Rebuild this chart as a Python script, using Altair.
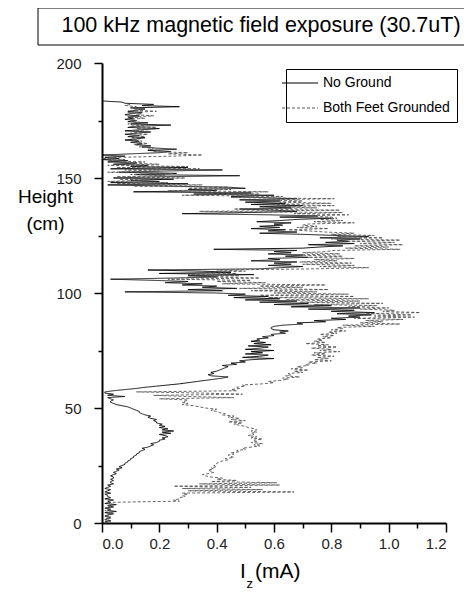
import altair as alt
import pandas as pd

# ---------------- data ----------------
SERIES = ["No Ground", "Both Feet Grounded"]
STEP_CM = 0.5  # sampling step along the body height

# I_z (mA), every 0.5 cm of height starting at 0 cm
no_ground = [
    # 0 - 9.5
    0.02, 0.01, 0.03, 0.01, 0.02, 0.03, 0.01, 0.02, 0.04, 0.01, 0.05, 0.02, 0.03, 0.01, 0.04, 0.02, 0.05, 0.01, 0.03, 0.02,
    # 10 - 19.5
    0.04, 0.01, 0.03, 0.02, 0.02, 0.01, 0.03, 0.01, 0.02, 0.03, 0.01, 0.02, 0.03, 0.02, 0.04, 0.03, 0.03, 0.04, 0.03, 0.04,
    # 20 - 29.5
    0.04, 0.03, 0.04, 0.05, 0.04, 0.05, 0.06, 0.05, 0.07, 0.06, 0.07, 0.08, 0.08, 0.09, 0.09, 0.10, 0.10, 0.11, 0.11, 0.12,
    # 30 - 39.5
    0.12, 0.13, 0.13, 0.14, 0.15, 0.14, 0.16, 0.17, 0.18, 0.17, 0.19, 0.20, 0.20, 0.22, 0.21, 0.23, 0.22, 0.20, 0.24, 0.21,
    # 40 - 49.5
    0.25, 0.21, 0.23, 0.20, 0.22, 0.20, 0.21, 0.19, 0.19, 0.18, 0.19, 0.17, 0.16, 0.17, 0.15, 0.14, 0.13, 0.13, 0.12, 0.11,
    # 50 - 59.5
    0.10, 0.09, 0.07, 0.05, 0.04, 0.03, 0.03, 0.04, 0.03, 0.02, 0.08, 0.02, 0.04, 0.01, 0.01, 0.04, 0.08, 0.12, 0.15, 0.19,
    # 60 - 69.5
    0.23, 0.27, 0.30, 0.33, 0.36, 0.39, 0.42, 0.44, 0.38, 0.37, 0.39, 0.38, 0.40, 0.41, 0.42, 0.43, 0.44, 0.42, 0.47, 0.45,
    # 70 - 79.5
    0.50, 0.48, 0.52, 0.60, 0.49, 0.55, 0.58, 0.50, 0.56, 0.52, 0.60, 0.50, 0.55, 0.58, 0.51, 0.59, 0.53, 0.57, 0.52, 0.55,
    # 80 - 89.5
    0.54, 0.58, 0.56, 0.60, 0.59, 0.64, 0.62, 0.65, 0.60, 0.59, 0.59, 0.60, 0.63, 0.70, 0.68, 0.78, 0.74, 0.85, 0.80, 0.90,
    # 90 - 99.5
    0.86, 0.94, 0.82, 0.95, 0.80, 0.88, 0.72, 0.90, 0.66, 0.80, 0.60, 0.72, 0.55, 0.68, 0.50, 0.62, 0.46, 0.58, 0.44, 0.50,
    # 100 - 109.5
    0.40, 0.08, 0.42, 0.30, 0.47, 0.35, 0.40, 0.28, 0.35, 0.22, 0.30, 0.18, 0.03, 0.25, 0.40, 0.30, 0.53, 0.20, 0.45, 0.35,
    # 110 - 119.5
    0.16, 0.55, 0.62, 0.70, 0.58, 0.66, 0.60, 0.68, 0.52, 0.62, 0.58, 0.72, 0.64, 0.70, 0.58, 0.66, 0.60, 0.68, 0.39, 0.70,
    # 120 - 129.5
    0.76, 0.84, 0.72, 0.88, 0.78, 0.86, 0.82, 0.90, 0.76, 0.93, 0.82, 0.70, 0.55, 0.68, 0.58, 0.64, 0.52, 0.62, 0.55, 0.63,
    # 130 - 139.5
    0.60, 0.66, 0.54, 0.62, 0.68, 0.80, 0.62, 0.75, 0.58, 0.28, 0.52, 0.68, 0.60, 0.48, 0.66, 0.55, 0.70, 0.52, 0.64, 0.50,
    # 140 - 149.5
    0.62, 0.48, 0.68, 0.55, 0.45, 0.60, 0.32, 0.52, 0.11, 0.40, 0.30, 0.50, 0.44, 0.22, 0.02, 0.30, 0.03, 0.20, 0.10, 0.25,
    # 150 - 159.5
    0.04, 0.18, 0.48, 0.12, 0.26, 0.06, 0.20, 0.42, 0.03, 0.30, 0.10, 0.16, 0.04, 0.12, 0.02, 0.09, 0.00, 0.06, 0.01, 0.08,
    # 160 - 169.5
    0.00, 0.10, 0.20, 0.24, 0.16, 0.26, 0.19, 0.14, 0.17, 0.12, 0.14, 0.10, 0.13, 0.08, 0.12, 0.15, 0.09, 0.13, 0.08, 0.12,
    # 170 - 179.5
    0.17, 0.08, 0.14, 0.20, 0.09, 0.12, 0.24, 0.10, 0.16, 0.09, 0.12, 0.08, 0.11, 0.09, 0.13, 0.08, 0.10, 0.14, 0.09, 0.12,
    # 180 - 183.5
    0.15, 0.10, 0.27, 0.14, 0.18, 0.08, 0.07, 0.00,
]

both_feet_grounded = [
    # 0 - 9.5
    0.01, 0.03, 0.02, 0.01, 0.03, 0.02, 0.01, 0.03, 0.02, 0.04, 0.02, 0.01, 0.03, 0.02, 0.04, 0.02, 0.03, 0.04, 0.04, 0.27,
    # 10 - 19.5
    0.25, 0.27, 0.27, 0.29, 0.28, 0.30, 0.28, 0.67, 0.30, 0.56, 0.28, 0.52, 0.25, 0.62, 0.34, 0.61, 0.38, 0.47, 0.40, 0.42,
    # 20 - 29.5
    0.38, 0.36, 0.35, 0.37, 0.39, 0.38, 0.37, 0.39, 0.38, 0.40, 0.39, 0.40, 0.40, 0.41, 0.42, 0.44, 0.43, 0.46, 0.45, 0.44,
    # 30 - 39.5
    0.46, 0.45, 0.48, 0.47, 0.50, 0.49, 0.52, 0.55, 0.53, 0.56, 0.52, 0.54, 0.53, 0.56, 0.52, 0.54, 0.51, 0.53, 0.52, 0.54,
    # 40 - 49.5
    0.52, 0.54, 0.53, 0.51, 0.50, 0.48, 0.46, 0.49, 0.44, 0.50, 0.45, 0.48, 0.44, 0.46, 0.42, 0.43, 0.41, 0.40, 0.38, 0.40,
    # 50 - 59.5
    0.36, 0.34, 0.32, 0.28, 0.30, 0.28, 0.29, 0.30, 0.20, 0.46, 0.30, 0.18, 0.49, 0.35, 0.12, 0.47, 0.45, 0.48, 0.47, 0.50,
    # 60 - 69.5
    0.49, 0.56, 0.60, 0.58, 0.62, 0.65, 0.63, 0.69, 0.64, 0.66, 0.65, 0.70, 0.67, 0.72, 0.66, 0.70, 0.68, 0.72, 0.71, 0.75,
    # 70 - 79.5
    0.72, 0.80, 0.74, 0.79, 0.75, 0.81, 0.73, 0.78, 0.74, 0.83, 0.76, 0.80, 0.73, 0.82, 0.75, 0.79, 0.71, 0.78, 0.74, 0.77,
    # 80 - 89.5
    0.75, 0.80, 0.77, 0.81, 0.76, 0.82, 0.79, 0.85, 0.80, 0.84, 0.82, 0.95, 0.84, 1.04, 0.90, 0.98, 0.92, 1.05, 0.88, 1.09,
    # 90 - 99.5
    0.95, 1.08, 0.92, 1.11, 0.98, 1.02, 0.90, 1.00, 0.86, 0.96, 0.74, 0.98, 0.69, 0.90, 0.64, 0.93, 0.58, 0.88, 0.55, 0.86,
    # 100 - 109.5
    0.60, 0.75, 0.52, 0.79, 0.48, 0.70, 0.55, 0.78, 0.42, 0.57, 0.40, 0.52, 0.23, 0.55, 0.34, 0.48, 0.30, 0.47, 0.35, 0.50,
    # 110 - 119.5
    0.40, 0.74, 0.93, 0.76, 0.88, 0.70, 0.87, 0.69, 0.82, 0.74, 0.88, 0.72, 0.84, 0.67, 0.83, 0.70, 0.78, 0.81, 1.04, 0.85,
    # 120 - 129.5
    1.00, 0.88, 1.05, 0.90, 1.02, 0.86, 1.04, 0.80, 0.98, 0.82, 0.95, 0.80, 0.88, 0.78, 0.72, 0.65, 0.79, 0.68, 0.75, 0.70,
    # 130 - 139.5
    0.72, 0.88, 0.74, 0.84, 0.76, 0.82, 0.80, 0.70, 0.86, 0.67, 0.84, 0.34, 0.83, 0.46, 0.75, 0.60, 0.81, 0.58, 0.80, 0.62,
    # 140 - 149.5
    0.70, 0.55, 0.81, 0.45, 0.63, 0.28, 0.55, 0.35, 0.58, 0.23, 0.45, 0.30, 0.44, 0.11, 0.35, 0.05, 0.23, 0.02, 0.15, 0.06,
    # 150 - 159.5
    0.29, 0.05, 0.22, 0.10, 0.25, 0.02, 0.20, 0.08, 0.34, 0.05, 0.30, 0.02, 0.20, 0.10, 0.15, 0.02, 0.08, 0.00, 0.06, 0.25,
    # 160 - 169.5
    0.35, 0.23, 0.30, 0.18, 0.20, 0.16, 0.18, 0.13, 0.17, 0.11, 0.16, 0.12, 0.14, 0.11, 0.13, 0.10, 0.15, 0.11, 0.16, 0.10,
    # 170 - 179.5
    0.14, 0.10, 0.16, 0.12, 0.19, 0.10, 0.15, 0.09, 0.13, 0.10, 0.12, 0.09, 0.15, 0.10, 0.18, 0.12, 0.14, 0.09, 0.19, 0.11,
    # 180 - 182
    0.15, 0.10, 0.12, 0.08, 0.10,
]

X_TICKS = [0.0, 0.1, 0.2, 0.3, 0.4, 0.5, 0.6, 0.7, 0.8, 0.9, 1.0, 1.1, 1.2]
Y_TICKS = [0, 25, 50, 75, 100, 125, 150, 175, 200]
TITLE = "100 kHz magnetic field exposure (30.7uT)"

rows = []
for name, vals in zip(SERIES, [no_ground, both_feet_grounded]):
    for i, v in enumerate(vals):
        rows.append({"series": name, "height": i * STEP_CM, "current": v})
df = pd.DataFrame(rows)

FONT = "Liberation Sans"
W, H = 344, 460

x_axis = alt.Axis(
    values=X_TICKS,
    title=None,
    grid=False,
    labelExpr="round(datum.value*10) % 2 == 0 ? format(datum.value, '.1f') : ''",
    tickSize={"condition": {"test": "round(datum.value*10) % 2 == 0", "value": 9}, "value": 5},
    labelFontSize=15,
    labelPadding=4,
)
y_axis = alt.Axis(
    values=Y_TICKS,
    grid=False,
    labelExpr="datum.value % 50 == 0 ? datum.label : ''",
    tickSize={"condition": {"test": "datum.value % 50 == 0", "value": 8}, "value": 4},
    labelFontSize=15,
    labelPadding=13,
    title=["Height", "(cm)"],
    titleAngle=0,
    titleAlign="center",
    titleBaseline="top",
    titleX=-57,
    titleY=124,
    titleFontSize=19,
    titleFontWeight="normal",
    titleLineHeight=27,
)

legend = alt.Legend(
    title=None,
    orient="none",
    legendX=184,
    legendY=6,
    strokeColor="black",
    fillColor="white",
    padding=7,
    symbolType="M-3,0H3",
    symbolSize=144,
    symbolStrokeWidth=1,
    labelFont=FONT,
    labelFontSize=14,
    labelColor="black",
    labelOffset=16,
    rowPadding=11,
)

lines = alt.Chart(df).mark_line(strokeWidth=0.9).encode(
    x=alt.X("current:Q", scale=alt.Scale(domain=[0, 1.2], nice=False), axis=x_axis),
    y=alt.Y("height:Q", scale=alt.Scale(domain=[0, 200], nice=False), axis=y_axis),
    order=alt.Order("height:Q"),
    color=alt.Color(
        "series:N",
        scale=alt.Scale(domain=SERIES, range=["#000000", "#555555"]),
        legend=legend,
    ),
    strokeDash=alt.StrokeDash(
        "series:N",
        scale=alt.Scale(domain=SERIES, range=[[1, 0], [3, 2]]),
        legend=legend,
    ),
)

one = pd.DataFrame({"k": [0]})
title_box = alt.Chart(one).mark_rect(fill="white", stroke="black", strokeWidth=1).encode(
    x=alt.value(-64), x2=alt.value(380), y=alt.value(-55), y2=alt.value(-18)
)
title_text = alt.Chart(one).mark_text(
    font=FONT, fontSize=21.5, align="center", baseline="middle", color="black"
).encode(x=alt.value(159), y=alt.value(-37), text=alt.value(TITLE))

xt_I = alt.Chart(one).mark_text(font=FONT, fontSize=21, align="left", baseline="alphabetic").encode(
    x=alt.value(138), y=alt.value(515), text=alt.value("I")
)
xt_z = alt.Chart(one).mark_text(font=FONT, fontSize=13, align="left", baseline="alphabetic").encode(
    x=alt.value(144.5), y=alt.value(525), text=alt.value("z")
)
xt_mA = alt.Chart(one).mark_text(font=FONT, fontSize=21, align="left", baseline="alphabetic").encode(
    x=alt.value(153), y=alt.value(515), text=alt.value("(mA)")
)

chart = alt.layer(title_box, title_text, lines, xt_I, xt_z, xt_mA).properties(
    width=W,
    height=H,
    autosize=alt.AutoSizeParams(type="none"),
    padding={"left": 94, "top": 55, "right": 18, "bottom": 67},
).configure_view(stroke=None).configure_axis(
    domainColor="black",
    domainWidth=2,
    tickColor="black",
    tickWidth=1.5,
    labelFont=FONT,
    labelColor="#222222",
    titleFont=FONT,
    titleColor="black",
).configure_text(font=FONT)

chart.save("out.html", embed_options={"renderer": "svg", "actions": False})
